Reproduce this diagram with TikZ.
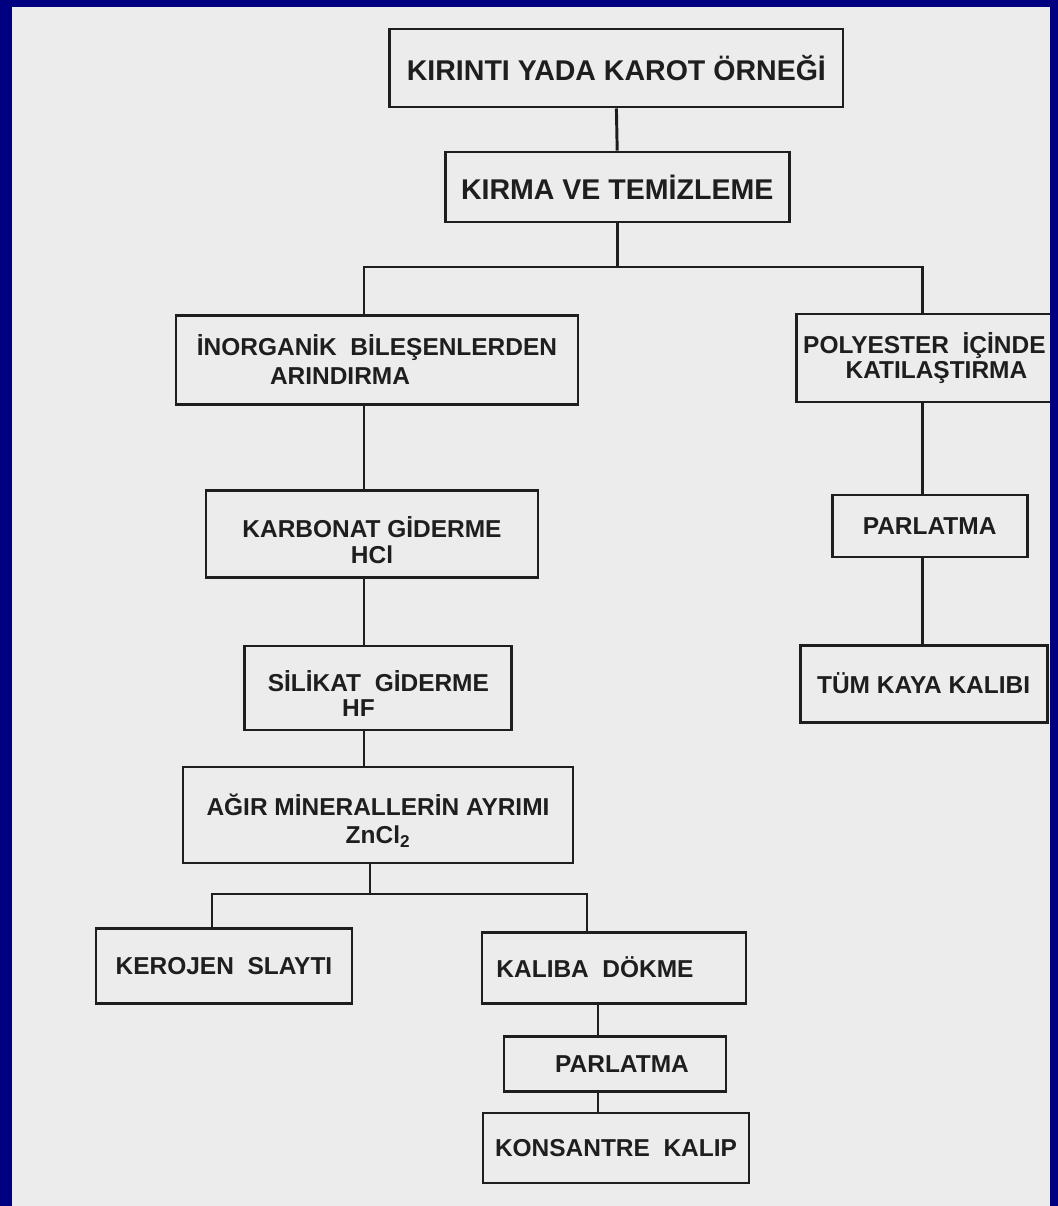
\documentclass[tikz,border=0pt]{standalone}
\usepackage{fontspec}
\setmainfont{Liberation Sans}
\usepackage{xcolor}
\usepackage{tikz}
\usetikzlibrary{calc, positioning}

\definecolor{lacivert}{RGB}{0,0,128}
\definecolor{kagit}{RGB}{236,236,236}
\definecolor{murekkep}{RGB}{30,30,30}

\newcommand{\ustpay}{\rule{0pt}{23pt}}

\begin{document}
\begin{tikzpicture}[
    kutu/.style={draw=murekkep, line width=2.1pt, rectangle, align=center,
        inner sep=0pt, text=murekkep, font=\bfseries\fontsize{17.4}{18}\selectfont},
    buyukkutu/.style={kutu, font=\bfseries\fontsize{20.3}{22}\selectfont},
    hat/.style={draw=murekkep, line width=2.1pt}
]
    % =================================================================
    % 1. ZEMİN
    % =================================================================
    \useasboundingbox (0,0) rectangle (26.45,-30.15);
    \fill[kagit] (0,0) rectangle (26.45,-30.15);

    % =================================================================
    % 2. KUTULAR
    % =================================================================
    \node[buyukkutu, minimum width=11.33cm, minimum height=1.95cm] (ornek) at (15.41,-1.70) {KIRINTI YADA KAROT ÖRNEĞİ};
    \node[buyukkutu, minimum width=8.6cm, minimum height=1.75cm] (kirma) at (15.43,-4.675) {KIRMA VE TEMİZLEME};

    % sol kol
    \node[kutu, minimum width=10.05cm, minimum height=2.225cm] (arindirma) at (9.425,-8.99) {İNORGANİK\ \ BİLEŞENLERDEN\\[3pt]ARINDIRMA\hspace*{1.85cm}};
    \node[kutu, minimum width=8.3cm, minimum height=2.175cm] (karbonat) at (9.3,-13.36) {\ustpay KARBONAT GİDERME\\HCl};
    \node[kutu, minimum width=6.675cm, minimum height=2.1cm] (silikat) at (9.46,-17.2) {\ustpay SİLİKAT\ \ GİDERME\\HF\hspace*{1cm}};
    \node[kutu, minimum width=9.75cm, minimum height=2.4cm] (agir) at (9.45,-20.375) {\ustpay AĞIR MİNERALLERİN AYRIMI\\[2pt]ZnCl\textsubscript{2}};

    % sağ kol
    \node[kutu, minimum width=6.375cm, minimum height=2.2cm] (polyester) at (23.11,-8.95) {POLYESTER\ \ İÇİNDE\\\hspace*{0.6cm}KATILAŞTIRMA};
    \node[kutu, minimum width=4.875cm, minimum height=1.55cm] (parlatma1) at (23.24,-13.15) {PARLATMA};
    \node[kutu, minimum width=6.175cm, minimum height=1.925cm] (tumkaya) at (23.09,-17.09) {TÜM KAYA KALIBI};

    % alt kısım
    \node[kutu, minimum width=6.4cm, minimum height=1.875cm] (kerojen) at (5.6,-24.14) {KEROJEN\ \ SLAYTI};
    \node[kutu, minimum width=6.6cm, minimum height=1.775cm] (kaliba) at (15.35,-24.19) {KALIBA\ \ DÖKME\hspace*{0.95cm}};
    \node[kutu, minimum width=5.55cm, minimum height=1.375cm] (parlatma2) at (15.375,-26.61) {\hspace*{0.35cm}PARLATMA};
    \node[kutu, minimum width=6.65cm, minimum height=1.75cm] (konsantre) at (15.4,-28.7) {KONSANTRE\ \ KALIP};

    % =================================================================
    % 3. BAĞLANTI ÇİZGİLERİ
    % =================================================================
    \coordinate (govde) at (9.1,0);
    \coordinate (sag) at (23.06,0);
    \coordinate (dal1) at (15.43,-6.675);
    \coordinate (dal2) at (9.25,-22.35);
    \coordinate (solkol) at (5.3,0);
    \coordinate (sagkol) at (14.675,0);
    \coordinate (alt) at (14.95,0);

    \draw[hat] (ornek.south) -- (kirma.north);
    \draw[hat] (kirma.south) -- (dal1);
    \draw[hat] (arindirma.north -| govde) |- (dal1) -| (polyester.north -| sag);

    % sol kol
    \draw[hat] (arindirma.south -| govde) -- (karbonat.north -| govde);
    \draw[hat] (karbonat.south -| govde) -- (silikat.north -| govde);
    \draw[hat] (silikat.south -| govde) -- (agir.north -| govde);

    % sağ kol
    \draw[hat] (polyester.south -| sag) -- (parlatma1.north -| sag);
    \draw[hat] (parlatma1.south -| sag) -- (tumkaya.north -| sag);

    % alt dallanma
    \draw[hat] (agir.south -| dal2) -- (dal2);
    \draw[hat] (kerojen.north -| solkol) |- (dal2) -| (kaliba.north -| sagkol);
    \draw[hat] (kaliba.south -| alt) -- (parlatma2.north -| alt);
    \draw[hat] (parlatma2.south -| alt) -- (konsantre.north -| alt);

    % =================================================================
    % 4. MAVİ ÇERÇEVE
    % =================================================================
    \fill[lacivert] (0,0) rectangle (0.3,-30.15);
    \fill[lacivert] (0,0) rectangle (26.45,-0.175);
    \fill[lacivert] (26.25,0) rectangle (26.45,-30.15);
\end{tikzpicture}
\end{document}
